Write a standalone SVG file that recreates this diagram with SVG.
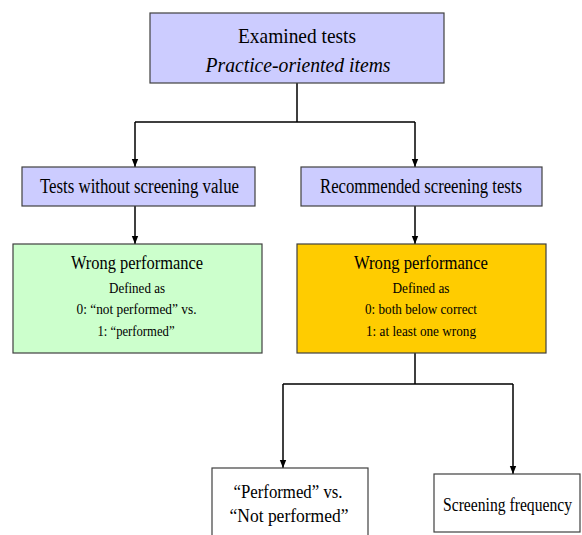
<svg xmlns="http://www.w3.org/2000/svg" width="582" height="535" viewBox="0 0 582 535">
<style>
.box{stroke:#404040;stroke-width:1.2}
.blue{fill:#CCCCFF}
.green{fill:#CCFFCC}
.orange{fill:#FFCC00}
.white{fill:#FFFFFF}
.conn{fill:none;stroke:#000;stroke-width:1.5}
</style>
<defs>
<marker id="arr" viewBox="0 0 8 8" refX="8" refY="4" markerWidth="8" markerHeight="8" markerUnits="userSpaceOnUse" orient="auto">
<path d="M0,0.8 L8,4 L0,7.2 Z" fill="#000"/>
</marker>
</defs>
<g id="connectors">
<path class="conn" d="M297,83 V122 M135,122 H415"/>
<path class="conn" d="M135,122 V167" marker-end="url(#arr)"/>
<path class="conn" d="M415,122 V167" marker-end="url(#arr)"/>
<path class="conn" d="M135,206 V244" marker-end="url(#arr)"/>
<path class="conn" d="M415,206 V244" marker-end="url(#arr)"/>
<path class="conn" d="M415,353 V384 M283,384 H513"/>
<path class="conn" d="M283,384 V468" marker-end="url(#arr)"/>
<path class="conn" d="M513,384 V474" marker-end="url(#arr)"/>
</g>
<g fill="#000" text-anchor="middle">
<g id="examined">
<rect class="box blue" x="150" y="13" width="294" height="70"/>
<text font-family="Liberation Serif" x="297" y="43" font-size="22" textLength="118" lengthAdjust="spacingAndGlyphs">Examined tests</text>
<text font-family="Liberation Serif" x="298" y="72" font-size="22" font-style="italic" textLength="185" lengthAdjust="spacingAndGlyphs">Practice-oriented items</text>
</g>
<g id="without">
<rect class="box blue" x="22" y="167" width="233" height="39"/>
<text font-family="Liberation Serif" x="139.5" y="193" font-size="20" textLength="199" lengthAdjust="spacingAndGlyphs">Tests without screening value</text>
</g>
<g id="recommended">
<rect class="box blue" x="301" y="167" width="241" height="39"/>
<text font-family="Liberation Serif" x="421" y="193" font-size="20" textLength="202" lengthAdjust="spacingAndGlyphs">Recommended screening tests</text>
</g>
<g id="wrong-left">
<rect class="box green" x="13" y="244" width="249" height="109"/>
<text font-family="Liberation Serif" x="137" y="269" font-size="19" textLength="132" lengthAdjust="spacingAndGlyphs">Wrong performance</text>
<text font-family="Liberation Serif" x="137" y="293" font-size="15" textLength="56" lengthAdjust="spacingAndGlyphs">Defined as</text>
<text font-family="Liberation Serif" x="136.5" y="314" font-size="15" textLength="120" lengthAdjust="spacingAndGlyphs">0: “not performed”  vs.</text>
<text font-family="Liberation Serif" x="136" y="336" font-size="15" textLength="77" lengthAdjust="spacingAndGlyphs">1: “performed”</text>
</g>
<g id="wrong-right">
<rect class="box orange" x="297" y="244" width="249" height="109"/>
<text font-family="Liberation Serif" x="421" y="269" font-size="19" textLength="134" lengthAdjust="spacingAndGlyphs">Wrong performance</text>
<text font-family="Liberation Serif" x="421" y="293" font-size="15" textLength="57" lengthAdjust="spacingAndGlyphs">Defined as</text>
<text font-family="Liberation Serif" x="421" y="314" font-size="15" textLength="112" lengthAdjust="spacingAndGlyphs">0: both below correct</text>
<text font-family="Liberation Serif" x="421" y="336" font-size="15" textLength="110" lengthAdjust="spacingAndGlyphs">1: at least one wrong</text>
</g>
<g id="performed">
<rect class="box white" x="212" y="468" width="156" height="80"/>
<text font-family="Liberation Serif" x="288" y="498" font-size="19" textLength="109" lengthAdjust="spacingAndGlyphs">“Performed” vs.</text>
<text font-family="Liberation Serif" x="289" y="522" font-size="19" textLength="119" lengthAdjust="spacingAndGlyphs">“Not performed”</text>
</g>
<g id="frequency">
<rect class="box white" x="434" y="474" width="146" height="58"/>
<text font-family="Liberation Serif" x="507.5" y="511" font-size="19" textLength="129" lengthAdjust="spacingAndGlyphs">Screening frequency</text>
</g>
</g>
</svg>
